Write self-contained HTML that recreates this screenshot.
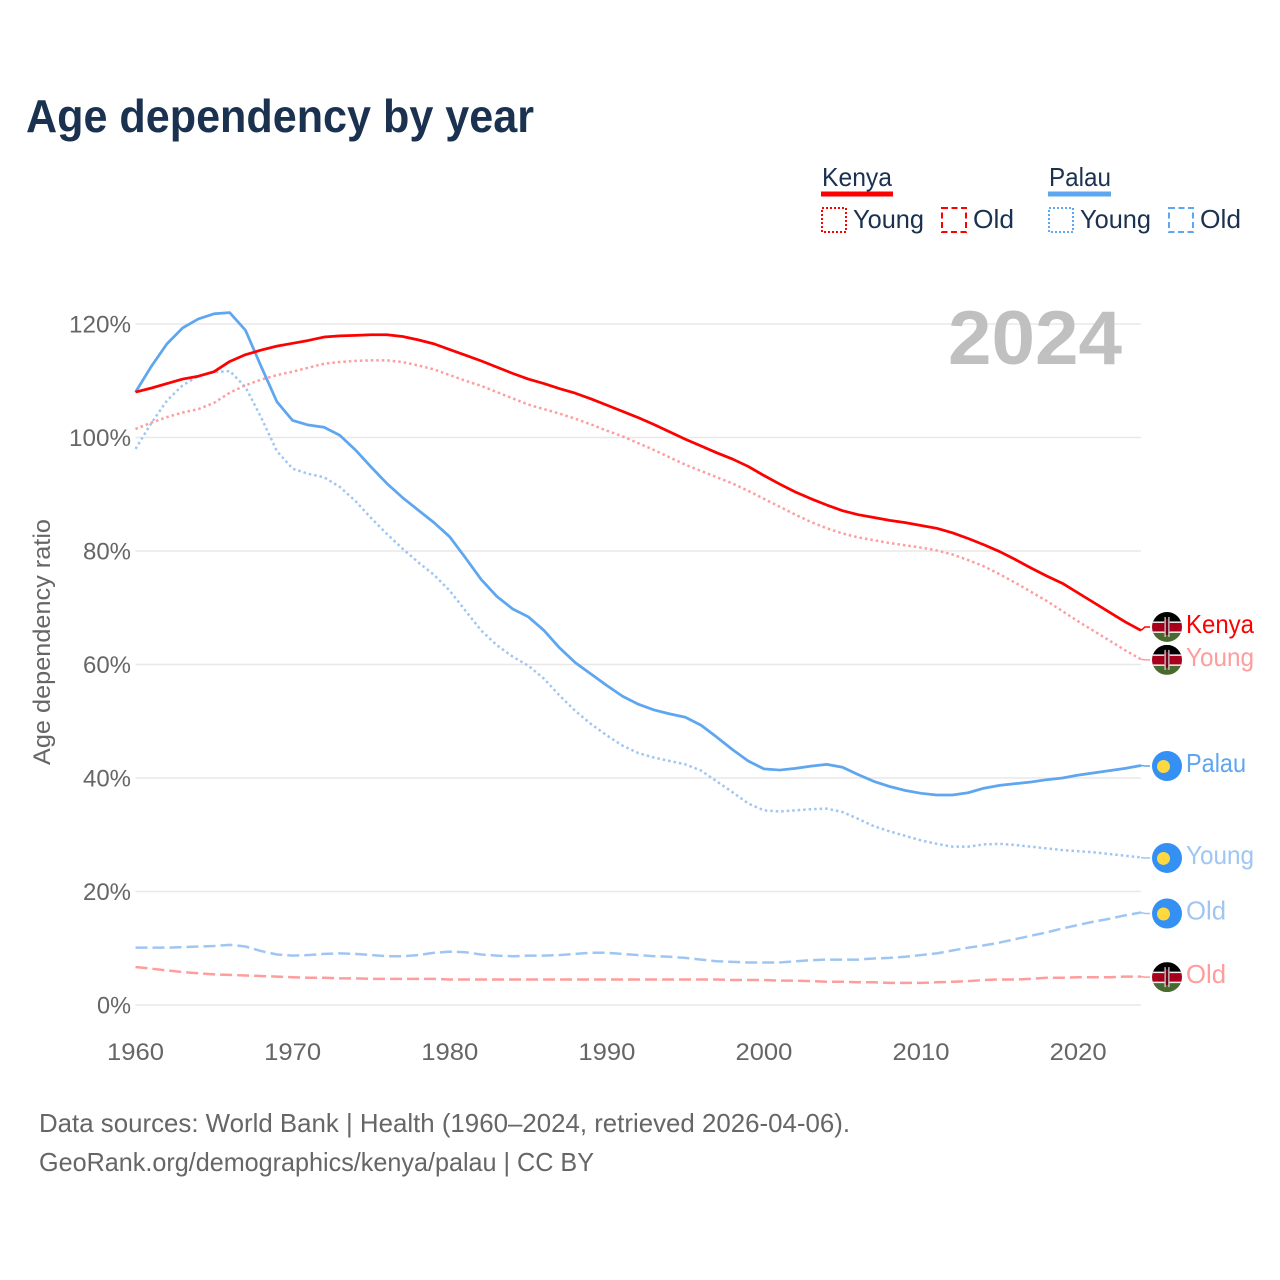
<!DOCTYPE html>
<html lang="en">
<head>
<meta charset="utf-8">
<title>Age dependency by year</title>
<style>
html,body{margin:0;padding:0;background:#fff;}
svg{display:block;font-family:"Liberation Sans",sans-serif;}
</style>
</head>
<body>
<svg id="chart" width="1280" height="1280" viewBox="0 0 1280 1280" xmlns="http://www.w3.org/2000/svg">
<defs>
<clipPath id="flag-clip" clipPathUnits="userSpaceOnUse"><circle cx="0" cy="0" r="15"/></clipPath>
</defs>
<rect width="1280" height="1280" fill="#fff"/>
<text x="26" y="132" font-size="46" font-weight="700" fill="#1a3250" textLength="508" lengthAdjust="spacingAndGlyphs">Age dependency by year</text>

<g font-size="26" fill="#1a3250">
<g>
<text x="822" y="186" textLength="70" lengthAdjust="spacingAndGlyphs">Kenya</text>
<rect x="821" y="191.500" width="72" height="5" fill="#ff0000"/>
<rect x="822" y="208" width="24" height="24" fill="none" stroke="#ff0000" stroke-width="2" stroke-dasharray="2 2"/>
<text x="853" y="228" textLength="71" lengthAdjust="spacingAndGlyphs">Young</text>
<rect x="942" y="208" width="24" height="24" fill="none" stroke="#ff0000" stroke-width="2" stroke-dasharray="6 3.500"/>
<text x="973" y="228" textLength="41" lengthAdjust="spacingAndGlyphs">Old</text>
</g>
<g>
<text x="1049" y="186" textLength="62" lengthAdjust="spacingAndGlyphs">Palau</text>
<rect x="1048" y="191.500" width="63" height="5" fill="#5ea6ef"/>
<rect x="1049" y="208" width="24" height="24" fill="none" stroke="#5ea6ef" stroke-width="2" stroke-dasharray="2 2"/>
<text x="1080" y="228" textLength="71" lengthAdjust="spacingAndGlyphs">Young</text>
<rect x="1169" y="208" width="24" height="24" fill="none" stroke="#5ea6ef" stroke-width="2" stroke-dasharray="6 3.500"/>
<text x="1200" y="228" textLength="41" lengthAdjust="spacingAndGlyphs">Old</text>
</g>
</g>

<g id="grid"></g>
<text x="948" y="364" font-size="76" font-weight="700" fill="#c0c0c0" textLength="174" lengthAdjust="spacingAndGlyphs">2024</text>
<g id="yticks"></g>
<g id="xticks"></g>
<text transform="translate(50,765) rotate(-90)" font-size="24" fill="#666" textLength="246" lengthAdjust="spacingAndGlyphs">Age dependency ratio</text>
<g id="series"></g>
<g id="labels"></g>

<g font-size="26" fill="#666">
<text x="39" y="1132" textLength="811" lengthAdjust="spacingAndGlyphs">Data sources: World Bank | Health (1960–2024, retrieved 2026-04-06).</text>
<text x="39" y="1171" textLength="555" lengthAdjust="spacingAndGlyphs">GeoRank.org/demographics/kenya/palau | CC BY</text>
</g>
</svg>

<script>
const firstYear = 1960;
const lastYear = 2024;
const xTickYears = [1960, 1970, 1980, 1990, 2000, 2010, 2020];
const yTickValues = [0, 20, 40, 60, 80, 100, 120];

const kenyaTotal = [
108.0,108.7,109.5,110.3,110.8,111.6,113.4,114.6,115.4,116.1,
116.6,117.1,117.7,117.9,118.0,118.1,118.1,117.8,117.2,116.5,
115.5,114.5,113.5,112.4,111.3,110.3,109.5,108.6,107.8,106.8,
105.7,104.6,103.5,102.3,101.0,99.7,98.5,97.3,96.2,94.9,
93.3,91.8,90.4,89.2,88.1,87.1,86.4,85.9,85.4,85.0,
84.5,84.0,83.2,82.2,81.1,79.9,78.5,77.0,75.6,74.3,
72.6,70.9,69.2,67.5,66.0];
const kenyaYoung = [
101.5,102.6,103.6,104.4,105.0,106.1,107.9,109.2,110.2,111.0,
111.6,112.3,113.0,113.3,113.5,113.6,113.6,113.3,112.7,112.0,
111.0,110.0,109.1,108.0,106.9,105.8,105.0,104.2,103.3,102.3,
101.2,100.2,99.0,97.8,96.5,95.2,94.1,93.0,91.9,90.6,
89.2,87.8,86.4,85.1,84.0,83.1,82.4,81.9,81.4,81.0,
80.6,80.1,79.4,78.4,77.3,75.9,74.4,72.8,71.2,69.4,
67.6,65.9,64.2,62.5,60.9];
const kenyaOld = [
6.7,6.4,6.1,5.8,5.6,5.4,5.3,5.2,5.1,5.0,
4.9,4.8,4.8,4.7,4.7,4.6,4.6,4.6,4.6,4.6,
4.5,4.5,4.5,4.5,4.5,4.5,4.5,4.5,4.5,4.5,
4.5,4.5,4.5,4.5,4.5,4.5,4.5,4.5,4.4,4.4,
4.4,4.3,4.3,4.2,4.1,4.1,4.0,4.0,3.9,3.9,
3.9,4.0,4.1,4.2,4.4,4.5,4.5,4.6,4.8,4.8,
4.9,4.9,4.9,5.0,5.0];
const palauTotal = [
108.0,112.5,116.5,119.3,120.9,121.8,122.0,118.9,112.5,106.3,
103.0,102.2,101.8,100.4,97.8,94.8,91.9,89.4,87.2,85.0,
82.5,78.8,75.0,72.0,69.8,68.4,66.0,62.9,60.3,58.3,
56.3,54.4,53.0,52.0,51.3,50.7,49.3,47.2,45.0,43.0,
41.6,41.4,41.7,42.1,42.4,41.9,40.6,39.4,38.5,37.8,
37.3,37.0,37.0,37.4,38.2,38.7,39.0,39.3,39.7,40.0,
40.5,40.9,41.3,41.7,42.2];
const palauYoung = [
98.0,102.5,106.5,109.2,110.8,111.5,111.7,108.9,103.5,97.6,
94.5,93.6,93.0,91.3,88.8,85.8,83.0,80.4,78.0,75.8,
73.0,69.5,66.0,63.4,61.4,59.8,57.5,54.5,51.8,49.5,
47.5,45.7,44.4,43.6,43.0,42.4,41.3,39.4,37.5,35.5,
34.3,34.1,34.3,34.5,34.6,34.0,32.8,31.5,30.6,29.8,
29.0,28.4,27.9,27.9,28.3,28.4,28.2,27.9,27.6,27.3,
27.1,26.9,26.6,26.3,26.0];
const palauOld = [
10.1,10.1,10.1,10.2,10.3,10.4,10.6,10.3,9.5,8.9,
8.7,8.8,9.0,9.1,9.0,8.8,8.6,8.6,8.8,9.2,
9.4,9.3,8.9,8.7,8.6,8.7,8.7,8.8,9.0,9.2,
9.2,9.0,8.8,8.6,8.5,8.3,8.0,7.7,7.6,7.5,
7.5,7.5,7.7,7.9,8.0,8.0,8.0,8.2,8.3,8.5,
8.8,9.1,9.6,10.1,10.5,11.0,11.6,12.2,12.8,13.5,
14.1,14.7,15.2,15.8,16.3];

const SVG_NS = 'http://www.w3.org/2000/svg';
const xAxis = v => 135.5 + (v - firstYear) * (1141 - 135.5) / (lastYear - firstYear);
const yAxis = v => 1005 - v * (1005 - 324) / 120;

function make(tag, parent, attrs) {
  const el = document.createElementNS(SVG_NS, tag);
  for (const k in attrs) el.setAttribute(k, attrs[k]);
  parent.appendChild(el);
  return el;
}

const gridG = document.getElementById('grid');
const yG = document.getElementById('yticks');
const xG = document.getElementById('xticks');
const seriesG = document.getElementById('series');
const labelsG = document.getElementById('labels');

yTickValues.forEach(v => {
  const line = make('line', gridG, {x1: 135.5, x2: 1141, y1: yAxis(v), y2: yAxis(v), stroke: '#e8e8e8', 'stroke-width': 1.5});
  
  
  const t = make('text', yG, {x: 131, y: yAxis(v) + 8.500, 'text-anchor': 'end', 'font-size': 24, fill: '#666', textLength: String(v).length * 14 + 20, lengthAdjust: 'spacingAndGlyphs'});
  
  
  t.textContent = v + '%';
});

xTickYears.forEach(y => {
  const t = make('text', xG, {x: xAxis(y), y: 1060, 'text-anchor': 'middle', 'font-size': 24, fill: '#666', textLength: 57, lengthAdjust: 'spacingAndGlyphs'});
  
  
  t.textContent = y;
});

const RED = '#ff0000', BLUE = '#5ea6ef', LRED = '#ff9c9c', LBLUE = '#9fc6f3';
const DOT = '2.500 3', DASH = '12 5';

function linePath(values) {
  return values.map((v, i) => (i ? 'L' : 'M') + xAxis(firstYear + i).toFixed(2) + ' ' + yAxis(v).toFixed(2)).join(' ');
}

function drawSeries(name, values, color, dash, width) {
  const p = make('path', seriesG, {d: linePath(values), fill: 'none', stroke: color, 'stroke-width': width, 'stroke-linejoin': 'round'});
  if (dash) p.setAttribute('stroke-dasharray', dash);
  
  
}

drawSeries('palau-old', palauOld, LBLUE, DASH, 2.500);
drawSeries('kenya-old', kenyaOld, LRED, DASH, 2.500);
drawSeries('palau-young', palauYoung, LBLUE, DOT, 2.500);
drawSeries('kenya-young', kenyaYoung, LRED, DOT, 2.500);
drawSeries('palau-total', palauTotal, BLUE, null, 2.750);
drawSeries('kenya-total', kenyaTotal, RED, null, 2.750);

function kenyaFlag(cy, name) {
  const g = make('g', labelsG, {transform: 'translate(1167,' + cy + ')'});
  
  
  const inner = make('g', g, {'clip-path': 'url(#flag-clip)'});
  make('rect', inner, {x: -15, y: -15, width: 30, height: 10.500, fill: '#000'});
  make('rect', inner, {x: -15, y: -4.500, width: 30, height: 9.500, fill: '#a8001c'});
  make('rect', inner, {x: -15, y: 5, width: 30, height: 10, fill: '#4a6b30'});
  make('rect', inner, {x: -15, y: -5.500, width: 30, height: 1.500, fill: '#eee'});
  make('rect', inner, {x: -15, y: 4.500, width: 30, height: 1.500, fill: '#eee'});
  make('ellipse', inner, {cx: 0, cy: 0, rx: 3.500, ry: 8, fill: '#7a0016'});
  make('rect', inner, {x: -2.500, y: -10, width: 1.200, height: 20, fill: '#ddd'});
  make('rect', inner, {x: 1.300, y: -10, width: 1.200, height: 20, fill: '#ddd'});
}

function palauFlag(cy, name) {
  const g = make('g', labelsG, {transform: 'translate(1167,' + cy + ')'});
  
  
  make('circle', g, {cx: 0, cy: 0, r: 15, fill: '#3590f3'});
  make('circle', g, {cx: -3.500, cy: 0.500, r: 6.500, fill: '#ffd83d'});
}

function endLabel(key, text, values, color, dash, flagShift, width, flag) {
  const endY = yAxis(values[values.length - 1]);
  const cy = endY + flagShift;
  const c = make('path', labelsG, {d: 'M1141 ' + endY + ' L1145 ' + cy + ' L1150 ' + cy, fill: 'none', stroke: color, 'stroke-width': 1.500});
  
  
  flag(cy, key + '-flag');
  const t = make('text', labelsG, {x: 1186, y: cy + 6, 'font-size': 26, fill: color, textLength: width, lengthAdjust: 'spacingAndGlyphs'});
  
  
  t.textContent = text;
}

endLabel('kenya-total', 'Kenya', kenyaTotal, RED, null, -3.500, 68, kenyaFlag);
endLabel('kenya-young', 'Young', kenyaYoung, LRED, DOT, 0.500, 68, kenyaFlag);
endLabel('palau-total', 'Palau', palauTotal, BLUE, null, 0.500, 60, palauFlag);
endLabel('palau-young', 'Young', palauYoung, LBLUE, DOT, 0.500, 68, palauFlag);
endLabel('palau-old', 'Old', palauOld, LBLUE, DASH, 1, 40, palauFlag);
endLabel('kenya-old', 'Old', kenyaOld, LRED, DASH, 0.500, 40, kenyaFlag);
</script>
</body>
</html>
